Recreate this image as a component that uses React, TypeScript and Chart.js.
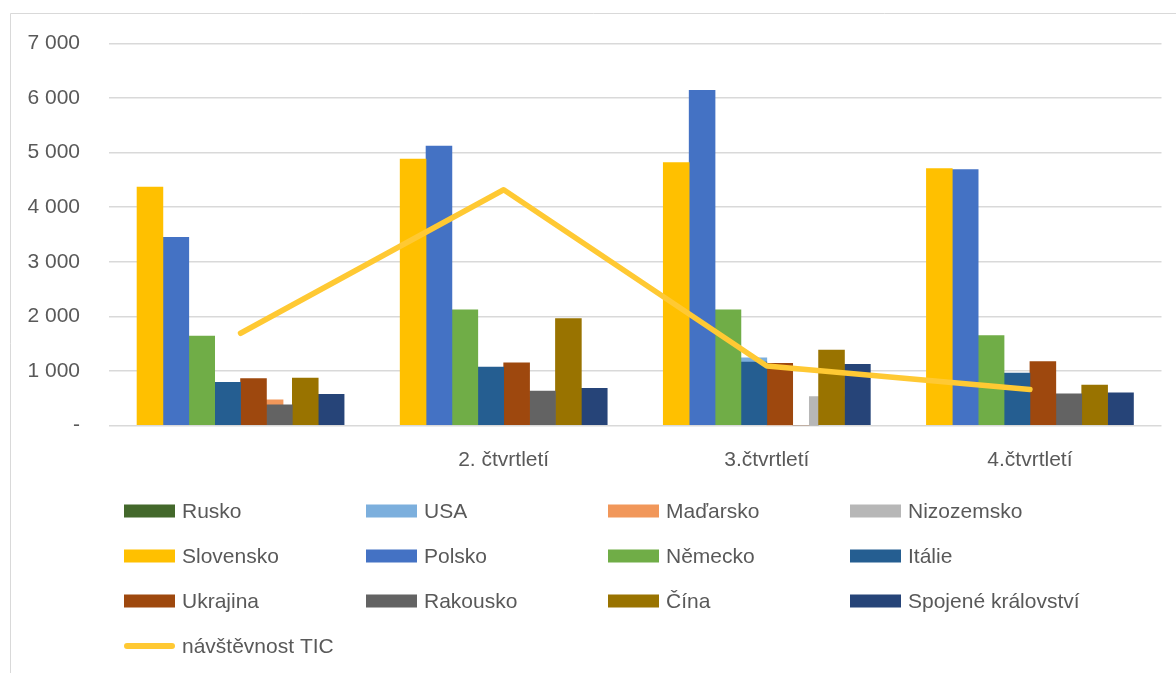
import React, { useEffect, useRef } from "react";
import { Chart, registerables } from "chart.js";

Chart.register(...registerables);

// ---- data ----
const categories = ["", "2. čtvrtletí", "3.čtvrtletí", "4.čtvrtletí"];

// series drawn in the secondary (wider, behind) bar group
const rusko = [420, 560, 610, 380];
const usa = [620, 890, 1240, 780];
const madarsko = [470, 520, 0, 450];
const nizozemsko = [330, 560, 530, 500];

// primary bar group
const slovensko = [4370, 4880, 4820, 4710];
const polsko = [3450, 5120, 6140, 4690];
const nemecko = [1640, 2120, 2120, 1650];
const italie = [790, 1070, 1160, 960];
const ukrajina = [860, 1150, 1140, 1170];
const rakousko = [380, 630, 0, 580];
const cina = [870, 1960, 1380, 740];
const spojeneKralovstvi = [570, 680, 1120, 600];

// line
const navstevnostTIC = [1690, 4320, 1090, 660];

const yMin = 0;
const yMax = 7000;
const yStep = 1000;

// ---- layout / style ----
const W = 1176;
const H = 673;
const AXIS_W = 109;
const PAD_RIGHT = 14.5;
const CAT_W = (W - AXIS_W - PAD_RIGHT) / categories.length;
const PRIMARY_PCT = 0.787;
const SECONDARY_PCT = 0.646;

const FONT = "'Liberation Sans', Arial, sans-serif";
const TEXT = "#595959";

const fmt = (v: number) =>
  v === 0 ? "-" : String(v).replace(/\B(?=(\d{3})+(?!\d))/g, " ");

const frame = {
  id: "frame",
  beforeDraw(chart: any) {
    const ctx = chart.ctx;
    ctx.save();
    ctx.fillStyle = "#ffffff";
    ctx.fillRect(0, 0, chart.width, chart.height);
    ctx.strokeStyle = "#d9d9d9";
    ctx.lineWidth = 1;
    ctx.beginPath();
    ctx.moveTo(10.5, chart.height);
    ctx.lineTo(10.5, 13.5);
    ctx.lineTo(chart.width, 13.5);
    ctx.stroke();
    ctx.restore();
  },
};

const gridLegend = {
  id: "gridLegend",
  afterDraw(chart: any) {
    const ctx = chart.ctx;
    const area = chart.chartArea;
    const ds = chart.data.datasets;
    const colStep = 242;
    const rowStep = 45;
    const x0 = area.left + 15;
    const y0 = area.bottom + 85.5;
    ctx.save();
    ctx.font = `21px ${FONT}`;
    ctx.textBaseline = "middle";
    ctx.textAlign = "left";
    ds.forEach((d: any, i: number) => {
      const c = i % 4;
      const r = Math.floor(i / 4);
      const x = x0 + c * colStep;
      const y = y0 + r * rowStep;
      if (d.type === "line") {
        ctx.strokeStyle = d.borderColor;
        ctx.lineWidth = 6;
        ctx.lineCap = "round";
        ctx.beginPath();
        ctx.moveTo(x + 3, y);
        ctx.lineTo(x + 48, y);
        ctx.stroke();
      } else {
        ctx.fillStyle = d.backgroundColor;
        ctx.fillRect(x, y - 6.5, 51, 13);
      }
      ctx.fillStyle = TEXT;
      ctx.fillText(d.label, x + 58, y + 1);
    });
    ctx.restore();
  },
};

// place series k of n inside a group that takes `pct` of the category width
const toPoints = (values: number[], k: number, n: number, pct: number) =>
  values.map((v, i) => ({ x: i + (k - (n - 1) / 2) * (pct / n), y: v }));

export default function App() {
  const ref = useRef<HTMLCanvasElement | null>(null);

  useEffect(() => {
    document.body.style.margin = "0";
    const canvas = ref.current;
    if (!canvas) return;

    const primaryList: [string, number[], string][] = [
      ["Slovensko", slovensko, "#FFC000"],
      ["Polsko", polsko, "#4472C4"],
      ["Německo", nemecko, "#70AD47"],
      ["Itálie", italie, "#255E91"],
      ["Ukrajina", ukrajina, "#9E480E"],
      ["Rakousko", rakousko, "#636363"],
      ["Čína", cina, "#997300"],
      ["Spojené království", spojeneKralovstvi, "#264478"],
    ];
    const secondaryList: [string, number[], string][] = [
      ["Rusko", rusko, "#43682B"],
      ["USA", usa, "#7CAFDD"],
      ["Maďarsko", madarsko, "#F1975A"],
      ["Nizozemsko", nizozemsko, "#B7B7B7"],
    ];

    const secondary = secondaryList.map(([label, data, color], k) => ({
      type: "bar" as const,
      label,
      data: toPoints(data, k, secondaryList.length, SECONDARY_PCT),
      backgroundColor: color,
      borderWidth: 0,
      xAxisID: "xb",
      grouped: false,
      barThickness: (CAT_W * SECONDARY_PCT) / secondaryList.length,
      order: 2,
    }));
    const primary = primaryList.map(([label, data, color], k) => ({
      type: "bar" as const,
      label,
      data: toPoints(data, k, primaryList.length, PRIMARY_PCT),
      backgroundColor: color,
      borderWidth: 0,
      xAxisID: "xb",
      grouped: false,
      barThickness: (CAT_W * PRIMARY_PCT) / primaryList.length,
      order: 1,
    }));

    const chart = new Chart(canvas, {
      data: {
        labels: categories,
        datasets: [
          ...secondary,
          ...primary,
          {
            type: "line" as const,
            label: "návštěvnost TIC",
            data: navstevnostTIC,
            borderColor: "#FFC933",
            backgroundColor: "#FFC933",
            borderWidth: 5.5,
            borderCapStyle: "round",
            borderJoinStyle: "round",
            pointRadius: 0,
            pointHoverRadius: 0,
            tension: 0,
            xAxisID: "x",
            order: 0,
          } as any,
        ],
      },
      options: {
        responsive: false,
        animation: false,
        events: [],
        layout: {
          padding: { top: 43.5, right: PAD_RIGHT, bottom: 187.5, left: 0 },
        },
        plugins: {
          legend: { display: false },
          tooltip: { enabled: false },
          title: { display: false },
        },
        scales: {
          x: {
            type: "category",
            offset: true,
            grid: { display: false },
            border: { display: false },
            ticks: {
              color: TEXT,
              font: { family: FONT, size: 21 },
              padding: 14,
              maxRotation: 0,
              autoSkip: false,
            },
            afterFit: (s: any) => {
              s.height = 60;
            },
          },
          xb: {
            type: "linear",
            min: -0.5,
            max: categories.length - 0.5,
            offset: false,
            grace: 0,
            display: false,
          },
          y: {
            min: yMin,
            max: yMax,
            stacked: false,
            grid: { color: "#d9d9d9", lineWidth: 1.5, drawTicks: false },
            border: { display: false },
            ticks: {
              stepSize: yStep,
              color: TEXT,
              font: { family: FONT, size: 21 },
              padding: 29,
              callback: (v: any) => fmt(Number(v)),
            },
            afterFit: (s: any) => {
              s.width = AXIS_W;
            },
          },
        } as any,
      },
      plugins: [frame, gridLegend],
    } as any);

    return () => chart.destroy();
  }, []);

  return (
    <canvas
      ref={ref}
      width={W}
      height={H}
      style={{ display: "block", width: W, height: H }}
    />
  );
}
